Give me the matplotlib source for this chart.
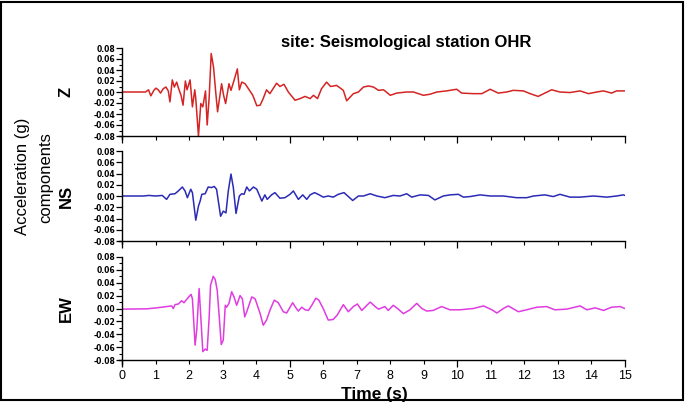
import numpy as np
import matplotlib
matplotlib.use('Agg')
import matplotlib.pyplot as plt
import matplotlib.ticker as ticker
from matplotlib.patches import Rectangle

plt.rcParams['font.family'] = ['Liberation Sans', 'DejaVu Sans']

# Z component (time s, acceleration g)
z_t = [0, 0.70, 0.79, 0.86, 0.95, 1.01, 1.08, 1.15, 1.23, 1.31, 1.38, 1.43, 1.50, 1.56,
       1.63, 1.69, 1.76, 1.82, 1.89, 1.94, 2.03, 2.10, 2.17, 2.20, 2.28, 2.35, 2.41, 2.49,
       2.54, 2.60, 2.66, 2.73, 2.79, 2.85, 2.90, 2.97, 3.03, 3.09, 3.19, 3.25, 3.34, 3.44,
       3.50, 3.57, 3.67, 3.77, 3.90, 4.02, 4.12, 4.21, 4.31, 4.41, 4.61, 4.71, 4.83, 4.96,
       5.16, 5.31, 5.46, 5.61, 5.71, 5.83, 5.95, 6.10, 6.22, 6.40, 6.60, 6.70, 6.90, 7.05,
       7.20, 7.35, 7.50, 7.65, 7.80, 8.00, 8.19, 8.49, 8.69, 8.99, 9.19, 9.39, 9.68, 9.98,
       10.13, 10.48, 10.73, 10.98, 11.22, 11.47, 11.67, 11.97, 12.17, 12.41, 12.61, 12.81,
       13.06, 13.36, 13.66, 13.91, 14.16, 14.36, 14.60, 14.75, 15.0]
z_acc = [0, 0, 0.004, -0.007, 0.003, 0.007, 0.004, -0.002, 0.006, 0.009, 0.002, -0.018, 0.022, 0.009,
         0.018, 0.006, -0.006, -0.024, 0.020, 0.004, 0.022, -0.027, 0.004, -0.012, -0.080, -0.021, -0.027, 0.002,
         -0.060, -0.009, 0.070, 0.045, 0.003, -0.036, -0.015, 0.015, -0.006, -0.021, 0.015, 0.003, 0.021, 0.042,
         0.004, 0.018, 0.015, 0.006, -0.006, -0.025, -0.024, -0.012, 0.004, -0.003, 0.016, 0.010, 0.014, 0.0,
         -0.015, -0.012, -0.008, -0.012, -0.006, -0.012, 0.006, 0.018, 0.010, 0.012, 0.003, -0.016, -0.003, 0.0,
         0.009, 0.011, 0.009, 0.003, 0.004, -0.006, -0.002, 0.0, 0.0, -0.006, -0.004, 0.0, 0.002, 0.005,
         -0.002, -0.003, -0.003, 0.005, -0.002, 0.0, 0.003, 0.002, -0.003, -0.008, -0.002, 0.004,
         0.0, -0.001, 0.002, -0.003, 0.0, 0.002, -0.002, 0.002, 0.002]

# NS component
ns_t = [0, 0.64, 0.80, 1.00, 1.20, 1.33, 1.43, 1.58, 1.68, 1.80, 1.88, 1.95, 2.05, 2.10,
        2.20, 2.28, 2.33, 2.38, 2.48, 2.57, 2.67, 2.75, 2.82, 2.94, 3.02, 3.10, 3.17, 3.25,
        3.32, 3.40, 3.50, 3.57, 3.64, 3.72, 3.80, 3.92, 4.02, 4.17, 4.26, 4.33, 4.46, 4.56,
        4.71, 4.86, 5.01, 5.11, 5.26, 5.39, 5.51, 5.61, 5.74, 5.85, 6.00, 6.15, 6.30, 6.45,
        6.62, 6.88, 7.05, 7.20, 7.40, 7.60, 7.84, 8.09, 8.29, 8.49, 8.64, 8.89, 9.14, 9.33,
        9.58, 9.78, 10.03, 10.18, 10.38, 10.68, 10.98, 11.37, 11.77, 12.07, 12.27, 12.61,
        12.86, 13.06, 13.36, 13.66, 14.06, 14.46, 14.75, 14.95, 15.0]
ns_acc = [0, 0, 0.001, 0.0, 0.001, -0.006, 0.003, 0.004, 0.009, 0.016, 0.009, -0.003, 0.012, 0.006,
          -0.043, -0.018, -0.009, 0.003, 0.004, 0.016, 0.015, 0.017, 0.012, -0.036, -0.027, -0.030, 0.009, 0.039,
          0.015, -0.031, 0.0, 0.004, 0.003, 0.016, 0.009, 0.016, 0.012, -0.009, 0.002, -0.006, 0.002, 0.006,
          -0.004, -0.003, 0.003, 0.009, -0.006, 0.002, -0.006, 0.002, 0.006, 0.003, -0.002, 0.0, -0.002, 0.003,
          0.006, -0.008, 0.0, 0.0, 0.004, 0.0, -0.003, 0.001, 0.0, 0.004, -0.002, 0.002, 0.001, -0.007,
          0.0, 0.002, 0.003, -0.002, -0.001, 0.002, 0.0, 0.0, -0.003, -0.003, 0.0, 0.002,
          -0.001, 0.003, -0.002, -0.002, 0.0, -0.002, 0.0, 0.002, 0.001]

# EW component
ew_t = [0, 0.74, 1.03, 1.33, 1.48, 1.53, 1.58, 1.68, 1.78, 1.85, 1.91, 1.99, 2.06, 2.10,
        2.18, 2.23, 2.30, 2.35, 2.41, 2.48, 2.54, 2.60, 2.64, 2.72, 2.78, 2.84, 2.90, 2.96,
        3.02, 3.08, 3.12, 3.19, 3.27, 3.34, 3.42, 3.52, 3.59, 3.66, 3.72, 3.87, 3.97, 4.12,
        4.21, 4.31, 4.41, 4.54, 4.66, 4.81, 4.91, 5.09, 5.16, 5.26, 5.36, 5.46, 5.56, 5.66,
        5.78, 5.87, 6.00, 6.15, 6.30, 6.42, 6.60, 6.75, 6.90, 7.02, 7.15, 7.40, 7.55, 7.65,
        7.84, 7.94, 8.09, 8.24, 8.39, 8.59, 8.79, 8.94, 9.09, 9.28, 9.53, 9.78, 10.08, 10.48,
        10.78, 11.03, 11.18, 11.37, 11.52, 11.82, 12.07, 12.37, 12.66, 12.91, 13.26, 13.66,
        13.86, 14.11, 14.36, 14.60, 14.85, 15.0]
ew_acc = [-0.001, -0.0005, 0.001, 0.003, 0.004, 0.0, 0.006, 0.007, 0.012, 0.009, 0.013, 0.018, 0.022, 0.015,
          -0.057, -0.033, 0.031, -0.013, -0.067, -0.063, -0.065, -0.013, 0.036, 0.050, 0.045, 0.028, -0.013, -0.056,
          -0.049, 0.005, 0.002, 0.008, 0.026, 0.018, 0.005, 0.020, 0.015, -0.013, -0.005, 0.018, 0.015, -0.008,
          -0.026, -0.018, -0.003, 0.013, 0.009, -0.005, -0.007, 0.009, 0.003, -0.004, 0.002, -0.002, -0.003, 0.005,
          0.016, 0.013, 0.0, -0.018, -0.017, -0.010, 0.006, -0.005, 0.003, 0.007, -0.003, 0.010, 0.003, -0.001,
          0.003, -0.003, 0.005, -0.001, -0.008, -0.002, 0.008, 0.0, -0.004, -0.003, 0.003, -0.002, -0.002, 0.0,
          0.004, -0.002, -0.007, 0.0, 0.004, -0.005, -0.002, 0.002, 0.003, -0.002, -0.001, 0.004,
          -0.002, 0.001, -0.003, 0.002, 0.003, 0.0]

components = ['Z', 'NS', 'EW']
series = [(z_t, z_acc), (ns_t, ns_acc), (ew_t, ew_acc)]
colors = ['#d42424', '#2b2bb5', '#e03ce0']
minor_y = [True, False, True]

fig = plt.figure(figsize=(6.85, 4.03), dpi=100)

# panel boxes in pixels (top, bottom of the +-0.08 range)
W, H = 685., 403.
x0, x1 = 122., 625.
boxes = [(48, 136), (151, 241), (257, 360)]

ylo = -0.086
for i, (top, bot) in enumerate(boxes):
    h_data = (bot - top) / 0.16
    bot_ext = bot + (-0.08 - ylo) * h_data
    ax = fig.add_axes([x0 / W, 1 - bot_ext / H, (x1 - x0) / W, (bot_ext - top) / H])
    t, a = series[i]
    ax.plot(t, a, color=colors[i], lw=1.1, solid_joinstyle='round')
    ax.set_xlim(0, 15)
    ax.set_ylim(ylo, 0.08)
    for s in ['top', 'right']:
        ax.spines[s].set_visible(False)
    ax.spines['bottom'].set_position(('data', -0.08))
    ax.spines['bottom'].set_bounds(-0.1, 15)
    ax.spines['left'].set_linewidth(1.0)
    ax.spines['bottom'].set_linewidth(1.0)

    ax.set_yticks(np.arange(-0.08, 0.081, 0.02))
    ax.set_yticklabels(['%.2f' % v for v in np.arange(-0.08, 0.081, 0.02)],
                       fontsize=5.5, fontweight='bold', family='DejaVu Sans')
    if minor_y[i]:
        ax.yaxis.set_minor_locator(ticker.MultipleLocator(0.01))
    ax.tick_params(axis='y', which='major', direction='out', length=4, width=0.9, pad=1)
    ax.tick_params(axis='y', which='minor', direction='out', length=2.5, width=0.8)

    ax.xaxis.set_major_locator(ticker.FixedLocator([0, 5, 10, 15]))
    ax.xaxis.set_minor_locator(ticker.FixedLocator([k for k in range(16) if k % 5]))
    ax.tick_params(axis='x', which='major', direction='out', length=5, width=0.9, pad=2)
    ax.tick_params(axis='x', which='minor', direction='out', length=3, width=0.8, pad=4)
    if i == 2:
        fmt = ticker.FuncFormatter(lambda v, p: '%d' % v)
        ax.xaxis.set_major_formatter(fmt)
        ax.xaxis.set_minor_formatter(fmt)
        ax.tick_params(axis='x', which='both', labelsize=9)
    else:
        ax.set_xticklabels([])
        ax.xaxis.set_minor_formatter(ticker.NullFormatter())

    fig.text(66 / W, 1 - ((top + bot) / 2) / H, components[i], rotation=90,
             ha='center', va='center', fontsize=12, fontweight='bold')

fig.text(406 / W, 1 - 43 / H, 'site: Seismological station OHR',
         ha='center', va='center', fontsize=12, fontweight='bold')
fig.text(23 / W, 1 - 176 / H, 'Acceleration (g)', rotation=90,
         ha='center', va='center', fontsize=12)
fig.text(46 / W, 1 - 178 / H, 'components', rotation=90,
         ha='center', va='center', fontsize=12)
fig.text(374 / W, 1 - 395 / H, 'Time (s)', ha='center', va='center',
         fontsize=12.5, fontweight='bold')

fig.patches.append(Rectangle((1 / W, 3 / H), 682 / W, 398 / H, transform=fig.transFigure,
                             fill=False, edgecolor='black', lw=1.5))

fig.savefig('out.png', dpi=100)
